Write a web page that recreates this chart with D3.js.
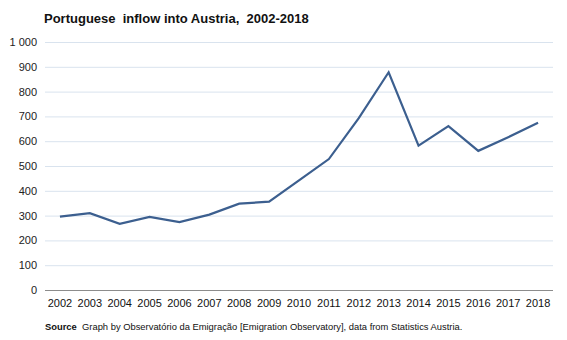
<!DOCTYPE html>
<html><head><meta charset="utf-8">
<script src="https://cdn.jsdelivr.net/npm/d3@7"></script>
<style>
body{margin:0;background:#fff;}
text{font-family:"Liberation Sans",Arial,sans-serif;}
</style></head>
<body><svg id="c" width="567" height="340"></svg>
<script>
const years = ["2002","2003","2004","2005","2006","2007","2008","2009","2010","2011","2012","2013","2014","2015","2016","2017","2018"];
const inflow = [296,310,267,295,274,304,348,356,442,528,693,878,582,661,561,616,674];
const yTicks = [0,100,200,300,400,500,600,700,800,900,1000];
const title = "Portuguese  inflow into Austria,  2002-2018";

const svg = d3.select("#c");
const m = {l:45, r:14, t:42, b:50};
const W = 567, H = 340;
const x = d3.scaleBand().domain(years).range([m.l, W - m.r]);
const y = d3.scaleLinear().domain([0,1000]).range([H - m.b, m.t]);
const fmt = d => d >= 1000 ? d3.format(",")(d).replace(",", " ") : String(d);

// grid
svg.append("g").selectAll("line").data(yTicks.filter(d => d > 0)).join("line")
  .attr("x1", m.l).attr("x2", W - m.r)
  .attr("y1", d => y(d) + 0.5).attr("y2", d => y(d) + 0.5)
  .attr("stroke", "#d9e3ee").attr("stroke-width", 1);

// y labels
const ya = svg.append("g").attr("transform", `translate(${m.l},0)`)
  .call(d3.axisLeft(y).tickValues(yTicks).tickFormat(fmt).tickSize(0).tickPadding(8));
ya.select(".domain").remove();
ya.selectAll("text").attr("font-size", 11).attr("fill", "#222").attr("font-family", "Liberation Sans, Arial, sans-serif");

// x axis
const xa = svg.append("g").attr("transform", `translate(0,${y(0) + 0.5})`)
  .call(d3.axisBottom(x).tickSize(0).tickPadding(9));
xa.select(".domain").attr("stroke", "#8c8c8c").attr("d", `M${m.l},0H${W - m.r}`);
xa.selectAll("text").attr("font-size", 11).attr("fill", "#111").attr("font-family", "Liberation Sans, Arial, sans-serif");

// line
const line = d3.line().x((d, i) => x(years[i]) + x.bandwidth() / 2).y(d => y(d));
svg.append("path").datum(inflow).attr("d", line)
  .attr("fill", "none").attr("stroke", "#3c5f8f").attr("stroke-width", 2.2)
  .attr("stroke-linejoin", "miter");

// title
svg.append("text").attr("x", 44).attr("y", 23).attr("font-size", 13).attr("font-weight", "bold")
  .attr("fill", "#111").style("white-space", "pre").attr("xml:space", "preserve").text(title);

// source
const s = svg.append("text").attr("x", 45).attr("y", 330).attr("font-size", 9.4).attr("fill", "#111")
  .attr("xml:space", "preserve").style("white-space", "pre");
s.append("tspan").attr("font-weight", "bold").text("Source");
s.append("tspan").text("  Graph by Observatório da Emigração [Emigration Observatory], data from Statistics Austria.");
</script></body></html>
